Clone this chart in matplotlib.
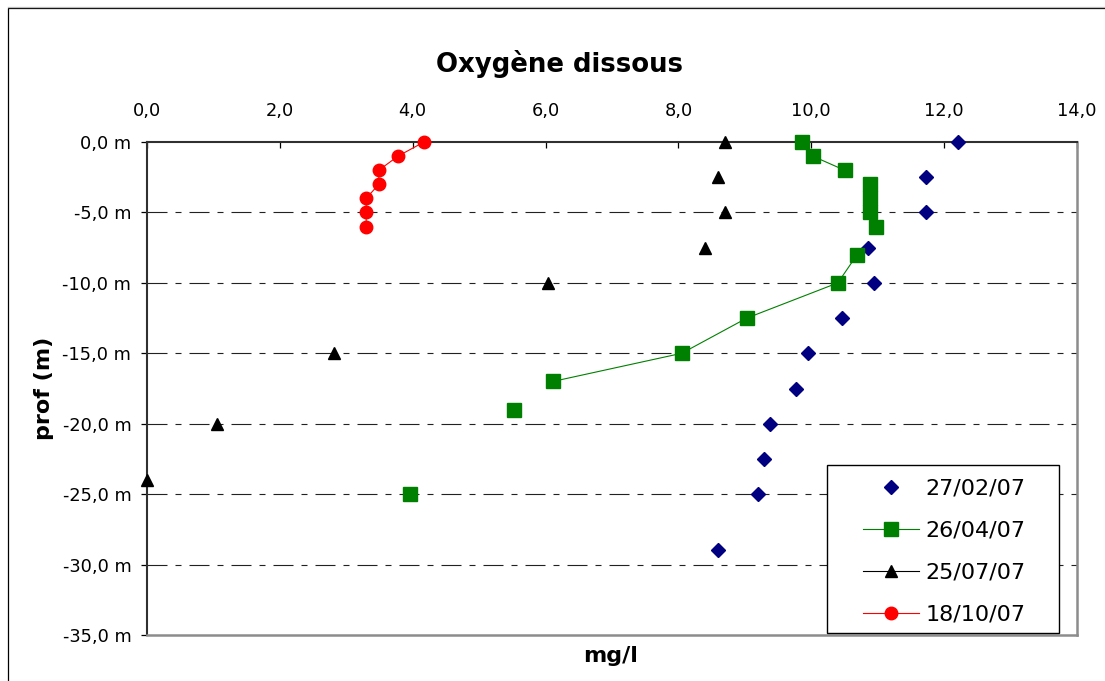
import numpy as np
import matplotlib
matplotlib.use("Agg")
import matplotlib.pyplot as plt
from matplotlib.lines import Line2D
from matplotlib.patches import Rectangle
from matplotlib.ticker import FixedLocator, FuncFormatter

plt.rcParams['font.family'] = ['DejaVu Sans']

# Dissolved oxygen (mg/l) against depth (m) for four sampling dates
dates = ["27/02/07", "26/04/07", "25/07/07", "18/10/07"]

feb_oxygen = [12.21, 11.72, 11.72, 10.85, 10.95, 10.46, 9.95, 9.77, 9.38, 9.29, 9.20, 8.60]
feb_depth = [0, -2.5, -5, -7.5, -10, -12.5, -15, -17.5, -20, -22.5, -25, -29]

# blank cells (nan) break the connecting line
apr_oxygen = [9.86, 10.02, 10.50, np.nan, 10.89, 10.89, 10.89, 10.98, np.nan,
              10.69, 10.40, 9.03, 8.05, 6.11, np.nan, 5.52, np.nan, 3.96]
apr_depth = [0, -1, -2, np.nan, -3, -4, -5, -6, np.nan,
             -8, -10, -12.5, -15, -17, np.nan, -19, np.nan, -25]

jul_oxygen = [8.70, 8.60, 8.70, 8.40, 6.04, 2.82, 1.05, 0.0]
jul_depth = [0, -2.5, -5, -7.5, -10, -15, -20, -24]

oct_oxygen = [4.17, 3.78, 3.49, 3.49, 3.30, 3.30, 3.30]
oct_depth = [0, -1, -2, -3, -4, -5, -6]

x_ticks = [0, 2, 4, 6, 8, 10, 12, 14]
y_ticks = [0, -5, -10, -15, -20, -25, -30, -35]

W, H = 1105, 681
fig = plt.figure(figsize=(W / 100, H / 100), dpi=100)
fig.patch.set_facecolor("white")

# outer chart border
fig.add_artist(Rectangle((7.5 / W, -0.1), 1.2, 1 - 8 / H + 0.1, transform=fig.transFigure,
                         fill=False, edgecolor="black", linewidth=0.9))
fig.add_artist(Line2D([7.5 / W, 1], [1 - 6.8 / H] * 2, transform=fig.transFigure,
                      color="#bbbbbb", linewidth=0.9))

left, right, top, bottom = 147, 1077, 142, 635
ax = fig.add_axes([left / W, 1 - bottom / H, (right - left) / W, (bottom - top) / H])

ax.set_xlim(0, 14)
ax.set_ylim(-35, 0)

navy, green, red = "#000080", "#008000", "#ff0000"

ax.plot(feb_oxygen, feb_depth, ls="none", marker="D", ms=7.6, color=navy, mec=navy,
        clip_on=False, zorder=3)
ax.plot(apr_oxygen, apr_depth, "-", lw=0.8, marker="s", ms=10, color=green, mec=green,
        clip_on=False, zorder=3)
ax.plot(jul_oxygen, jul_depth, ls="none", marker="^", ms=9, color="black", mec="black",
        clip_on=False, zorder=3)
ax.plot(oct_oxygen, oct_depth, "-", lw=0.8, marker="o", ms=9, color=red, mec=red,
        clip_on=False, zorder=3)

# axes, ticks and labels
ax.xaxis.tick_top()
ax.xaxis.set_major_locator(FixedLocator(x_ticks))
ax.xaxis.set_major_formatter(FuncFormatter(lambda v, p: f"{v:.1f}".replace(".", ",")))
ax.yaxis.set_major_locator(FixedLocator(y_ticks))
ax.yaxis.set_major_formatter(FuncFormatter(
    lambda v, p: f"{abs(v) if v == 0 else v:.1f}".replace(".", ",") + " m"))
ax.tick_params(axis="x", direction="in", length=4.5, width=0.9, pad=16,
               labelsize=12.8, colors="black")
ax.tick_params(axis="y", direction="out", length=4.3, width=0.9, pad=7,
               labelsize=12.8, colors="black")

for side in ("top", "left"):
    ax.spines[side].set_color("#303030")
    ax.spines[side].set_linewidth(1.5)
for side in ("right", "bottom"):
    ax.spines[side].set_color("#8c8c8c")
    ax.spines[side].set_linewidth(1.8)

for d in y_ticks[1:-1]:
    ax.axhline(d, color="#222222", lw=0.8, ls=(0, (18, 7.2, 5.4, 7.2)), zorder=1)

fig.text(559 / W, 1 - 71.5 / H, "Oxygène dissous", ha="center", va="baseline",
         fontsize=18.7, fontweight="bold")
fig.text(610.5 / W, 1 - 661.5 / H, "mg/l", ha="center", va="baseline",
         fontsize=16, fontweight="bold")
fig.text(44 / W, 1 - 388 / H, "prof (m)", ha="center", va="center", rotation=90,
         fontsize=16, fontweight="bold")

# legend
ax.add_patch(Rectangle((827 / W, 1 - 633 / H), 232 / W, 168 / H, transform=fig.transFigure,
                       facecolor="white", edgecolor="black", lw=1.0, clip_on=False, zorder=4))
handles = [
    Line2D([], [], ls="none", marker="D", ms=7.6, color=navy, mec=navy),
    Line2D([], [], ls="-", lw=0.8, marker="s", ms=10, color=green, mec=green),
    Line2D([], [], ls="-", lw=0.8, marker="^", ms=9, color="black", mec="black"),
    Line2D([], [], ls="-", lw=0.8, marker="o", ms=9, color=red, mec=red),
]
leg = ax.legend(handles, dates, loc="upper left", bbox_to_anchor=(863 / W, 1 - 479 / H),
                bbox_transform=fig.transFigure, frameon=False, fontsize=16,
                borderpad=0, borderaxespad=0, handlelength=2.5, handletextpad=0.3,
                labelspacing=0.98)
leg.set_zorder(5)

fig.savefig("out.png", dpi=100)
